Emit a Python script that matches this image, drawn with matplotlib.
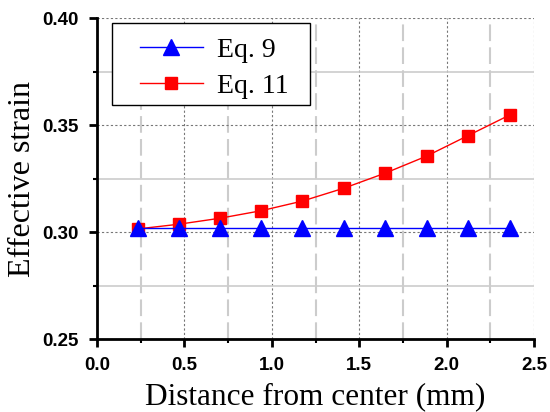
import matplotlib.pyplot as plt
from matplotlib.ticker import MultipleLocator
from matplotlib.patches import Rectangle

# data
distance = [0.235, 0.47, 0.705, 0.94, 1.175, 1.415, 1.65, 1.885, 2.12, 2.36]
eq9 = [0.302, 0.302, 0.302, 0.302, 0.302, 0.302, 0.302, 0.302, 0.302, 0.302]
eq11 = [0.3015, 0.3037, 0.3065, 0.3100, 0.3145, 0.3206, 0.3276, 0.3355, 0.3450, 0.3547]
xticks = [0.0, 0.5, 1.0, 1.5, 2.0, 2.5]
yticks = [0.25, 0.30, 0.35, 0.40]

fig = plt.figure(figsize=(5.5, 4.12), dpi=100)
ax = fig.add_axes([0.1764, 0.177, 0.7946, 0.779])

ax.plot(distance, eq11, "-s", color="red", markersize=9, linewidth=1, label="Eq. 11", zorder=3)
ax.plot(distance, eq9, "-^", color="blue", markersize=12, linewidth=1, label="Eq. 9", zorder=4)

ax.set_xlim(0, 2.5)
ax.set_ylim(0.25, 0.40)
ax.set_xticks(xticks)
ax.set_xticklabels(["%.1f" % v for v in xticks])
ax.set_yticks(yticks)
ax.set_yticklabels(["%.2f" % v for v in yticks])
ax.xaxis.set_minor_locator(MultipleLocator(0.25))
ax.yaxis.set_minor_locator(MultipleLocator(0.025))

ax.grid(which="major", color="#777777", linestyle=(0, (2, 2)), linewidth=0.8)
ax.grid(which="minor", axis="x", color="#cccccc", linestyle=(0, (8, 3)), linewidth=1.5)
ax.grid(which="minor", axis="y", color="#cccccc", linestyle="-", linewidth=1.2)
ax.set_axisbelow(True)

for s in ["top", "right"]:
    ax.spines[s].set_visible(False)
for s in ["left", "bottom"]:
    ax.spines[s].set_linewidth(2)

ax.tick_params(which="major", direction="out", length=6, width=2, pad=7,
               labelsize=13.5, labelfontfamily="Liberation Sans")
ax.tick_params(which="minor", direction="out", length=3, width=1.5)

ax.set_xlabel("Distance from center (mm)", fontfamily="Liberation Serif", fontsize=22.5, labelpad=6)
ax.set_ylabel("Effective strain", fontfamily="Liberation Serif", fontsize=23, labelpad=4)

# legend box drawn separately to get the wide side padding of the original
box = Rectangle((0.0343, 0.729), 0.4531, 0.2554, transform=ax.transAxes,
                facecolor="white", edgecolor="black", linewidth=1, zorder=6)
ax.add_patch(box)
handles, labels = ax.get_legend_handles_labels()
leg = ax.legend(handles[::-1], labels[::-1], loc="upper left", bbox_to_anchor=(0.098, 0.939),
                prop={"family": "Liberation Serif", "size": 20}, frameon=False,
                handlelength=2.27, borderpad=0, borderaxespad=0,
                labelspacing=0.37, handletextpad=0.5)
leg.set_zorder(7)

# bold tick labels, set last so nothing resets them
for lab in ax.get_xticklabels() + ax.get_yticklabels():
    lab.set_fontweight("bold")

fig.savefig("out.png", dpi=100)
